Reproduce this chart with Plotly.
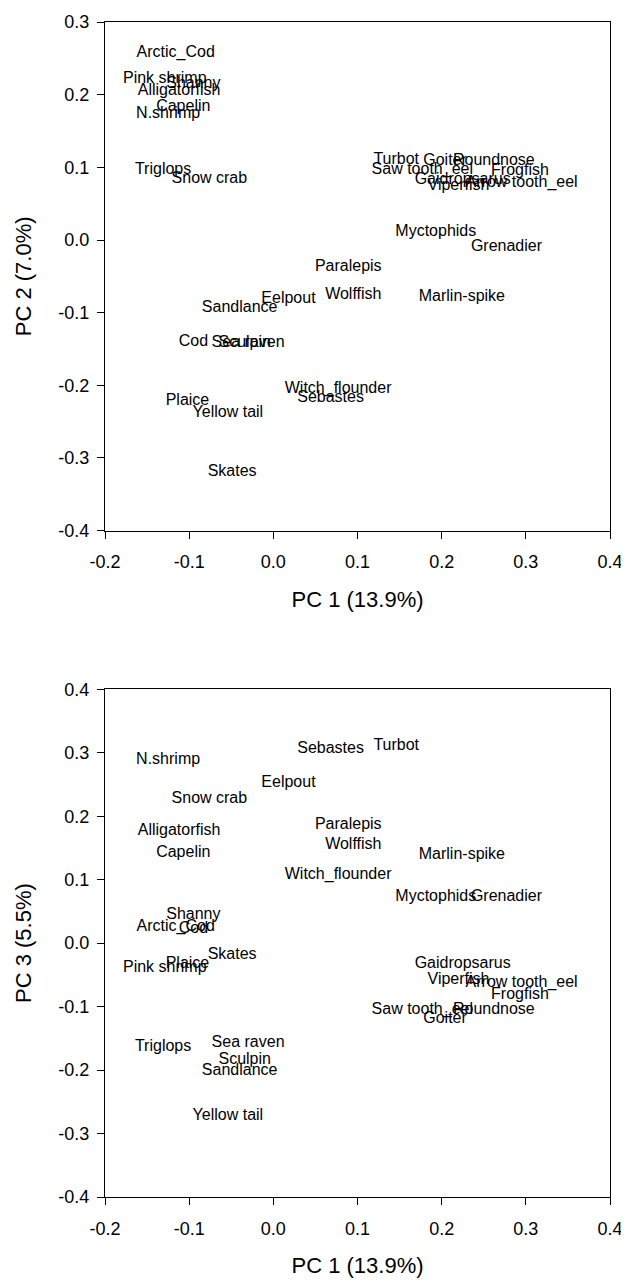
import plotly.graph_objects as go
from plotly.subplots import make_subplots

species = ["Arctic_Cod", "Pink shrimp", "Shanny", "Alligatorfish", "Capelin", "N.shrimp",
           "Triglops", "Snow crab", "Turbot", "Goiter", "Roundnose", "Saw tooth_eel",
           "Frogfish", "Gaidropsarus", "Viperfish", "Arrow tooth_eel", "Myctophids",
           "Grenadier", "Paralepis", "Wolffish", "Marlin-spike", "Eelpout", "Sandlance",
           "Cod", "Sea raven", "Sculpin", "Witch_flounder", "Sebastes", "Plaice",
           "Yellow tail", "Skates"]

pc1 = [-0.116, -0.129, -0.095, -0.112, -0.107, -0.125,
       -0.131, -0.076, 0.146, 0.204, 0.262, 0.177,
       0.293, 0.225, 0.220, 0.295, 0.193,
       0.277, 0.089, 0.095, 0.224, 0.018, -0.040,
       -0.095, -0.030, -0.034, 0.077, 0.068, -0.102,
       -0.054, -0.049]

pc2 = [0.258, 0.222, 0.215, 0.205, 0.183, 0.173,
       0.097, 0.084, 0.110, 0.109, 0.109, 0.097,
       0.095, 0.083, 0.074, 0.079, 0.011,
       -0.010, -0.037, -0.075, -0.078, -0.081, -0.094,
       -0.141, -0.142, -0.142, -0.205, -0.218, -0.221,
       -0.238, -0.319]

pc3 = [0.025, -0.039, 0.045, 0.177, 0.142, 0.289,
       -0.164, 0.227, 0.311, -0.120, -0.105, -0.105,
       -0.081, -0.033, -0.058, -0.063, 0.073,
       0.073, 0.186, 0.155, 0.139, 0.253, -0.202,
       0.022, -0.158, -0.184, 0.108, 0.306, -0.033,
       -0.273, -0.019]

x_ticks = [-0.2, -0.1, 0.0, 0.1, 0.2, 0.3, 0.4]
x_ticklabels = ["-0.2", "-0.1", "0.0", "0.1", "0.2", "0.3", "0.4"]
y2_ticks = [-0.4, -0.3, -0.2, -0.1, 0.0, 0.1, 0.2, 0.3]
y2_ticklabels = ["-0.4", "-0.3", "-0.2", "-0.1", "0.0", "0.1", "0.2", "0.3"]
y3_ticks = [-0.4, -0.3, -0.2, -0.1, 0.0, 0.1, 0.2, 0.3, 0.4]
y3_ticklabels = ["-0.4", "-0.3", "-0.2", "-0.1", "0.0", "0.1", "0.2", "0.3", "0.4"]

FONT = "Liberation Sans, Arial, sans-serif"

fig = make_subplots(rows=2, cols=1)

fig.add_trace(go.Scatter(x=pc1, y=pc2, mode="text", text=species,
                         textposition="middle center",
                         textfont=dict(family=FONT, size=16, color="black"),
                         showlegend=False, hoverinfo="text"), row=1, col=1)
fig.add_trace(go.Scatter(x=pc1, y=pc3, mode="text", text=species,
                         textposition="middle center",
                         textfont=dict(family=FONT, size=16, color="black"),
                         showlegend=False, hoverinfo="text"), row=2, col=1)

axis_common = dict(showgrid=False, zeroline=False, showline=True, linecolor="black",
                   linewidth=1, mirror=True, ticks="outside", ticklen=7,
                   tickcolor="black", tickwidth=1, tickmode="array",
                   tickfont=dict(family=FONT, size=18, color="black"))

xt = dict(family=FONT, size=22)

fig.update_layout(
    width=621, height=1271,
    margin=dict(l=97, r=19, t=4, b=82),
    paper_bgcolor="white", plot_bgcolor="white",
    font=dict(family=FONT, color="black"),
    xaxis=dict(axis_common, range=[-0.2, 0.4], tickvals=x_ticks, ticktext=x_ticklabels,
               domain=[0, 1], ticklabelstandoff=8,
               title=dict(text="PC 1 (13.9%)", font=xt, standoff=20)),
    yaxis=dict(axis_common, range=[-0.4, 0.3], tickvals=y2_ticks, ticktext=y2_ticklabels,
               domain=[0.5671, 1], ticklabelstandoff=4,
               title=dict(text="PC 2 (7.0%)", font=xt, standoff=20)),
    xaxis2=dict(axis_common, range=[-0.2, 0.4], tickvals=x_ticks, ticktext=x_ticklabels,
                domain=[0, 1], ticklabelstandoff=8,
                title=dict(text="PC 1 (13.9%)", font=xt, standoff=20)),
    yaxis2=dict(axis_common, range=[-0.4, 0.4], tickvals=y3_ticks, ticktext=y3_ticklabels,
                domain=[0, 0.4321], ticklabelstandoff=4,
                title=dict(text="PC 3 (5.5%)", font=xt, standoff=20)),
)

fig.write_html("out.html")
